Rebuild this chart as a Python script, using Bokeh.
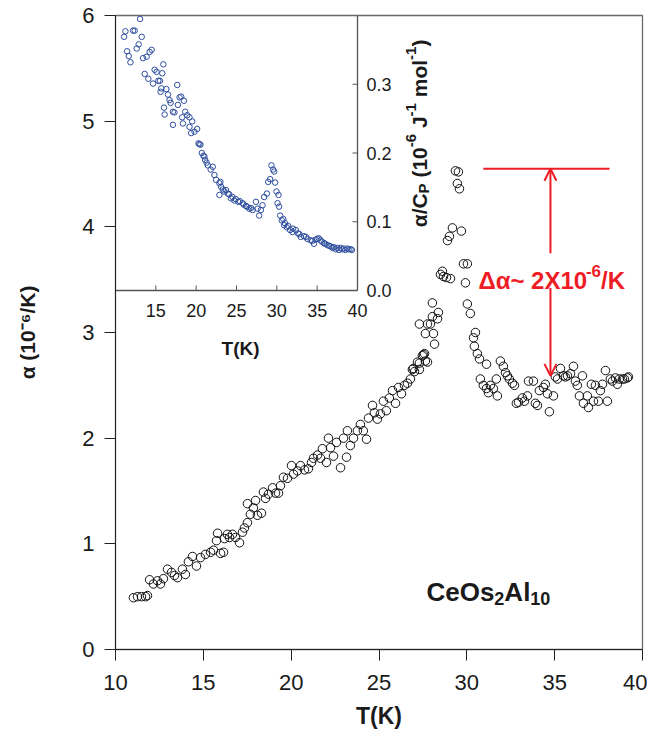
import math
from bokeh.plotting import figure
from bokeh.models import Range1d, Arrow, OpenHead
from bokeh.embed import file_html
from bokeh.resources import INLINE
from bokeh.core.properties import value

# ---------------- data ----------------
T_main = [11.02, 11.25, 11.48, 11.71, 11.82, 11.94, 12.16, 12.39, 12.56, 12.73,
          12.96, 13.19, 13.36, 13.53, 13.81, 13.98, 14.15, 14.38, 14.61, 14.84,
          15.12, 15.41, 15.58, 15.75, 15.81, 15.98, 16.15, 16.20, 16.37, 16.49,
          16.66, 16.83, 17.06, 17.23, 17.34, 17.51, 17.51, 17.68, 17.85, 17.97,
          18.08, 18.31, 18.42, 18.54, 18.71, 18.94, 19.11, 19.28, 19.39, 19.56,
          19.79, 20.02, 20.13, 20.36, 20.53, 20.76, 20.98, 21.16, 21.27, 21.50,
          21.67, 21.78, 22.01, 22.12, 22.24, 22.41, 22.58, 22.81, 22.98, 23.15,
          23.20, 23.37, 23.55, 23.77, 23.94, 24.11, 24.29, 24.40, 24.63, 24.74,
          24.91, 25.08, 25.25, 25.42, 25.59, 25.77, 25.94, 26.11, 26.28, 26.45,
          26.62, 26.79, 26.90, 27.02, 27.19, 27.30, 27.47, 27.59, 27.76, 26.96,
          27.30, 27.53, 27.64, 27.30, 27.64, 27.76, 27.93, 28.04, 28.16, 28.10,
          28.33, 28.38, 28.04, 28.50, 28.61, 28.67, 28.84, 29.07, 28.90, 29.01,
          29.18, 29.69, 29.35, 29.52, 29.46, 29.58, 29.81, 30.03, 29.92, 30.03,
          30.20, 30.49, 30.38, 30.43, 30.60, 30.72, 31.12, 30.77, 30.94, 31.12,
          31.23, 31.34, 31.51, 31.68, 31.74, 31.91, 32.08, 32.20, 32.31, 32.42,
          32.60, 32.71, 32.82, 32.94, 33.16, 33.28, 33.45, 33.51, 33.79, 33.90,
          34.02, 34.13, 34.36, 34.47, 34.59, 34.70, 34.93, 35.04, 35.16, 35.33,
          35.50, 35.61, 35.73, 35.90, 36.07, 36.18, 36.29, 36.41, 36.58, 36.64,
          36.86, 36.92, 37.09, 37.21, 37.32, 37.49, 37.60, 37.72, 37.89, 38.00,
          38.17, 38.29, 38.46, 38.57, 38.68, 38.86, 38.97, 39.14, 39.20]
alpha_main = [0.49, 0.50, 0.50, 0.50, 0.51, 0.66, 0.62, 0.65, 0.62, 0.67,
              0.76, 0.73, 0.70, 0.68, 0.76, 0.71, 0.83, 0.88, 0.79, 0.87,
              0.90, 0.92, 0.94, 1.03, 1.10, 0.91, 0.92, 1.05, 1.09, 1.06,
              1.09, 1.06, 1.01, 1.11, 1.15, 1.20, 1.38, 1.28, 1.34, 1.41,
              1.27, 1.29, 1.49, 1.43, 1.47, 1.53, 1.48, 1.48, 1.55, 1.63,
              1.62, 1.74, 1.66, 1.69, 1.74, 1.70, 1.71, 1.77, 1.81, 1.84,
              1.81, 1.90, 1.77, 2.00, 1.91, 1.83, 1.96, 1.72, 2.00, 1.82,
              2.07, 1.93, 2.00, 2.07, 2.13, 2.07, 1.99, 2.19, 2.31, 2.24,
              2.18, 2.23, 2.35, 2.26, 2.38, 2.45, 2.33, 2.48, 2.42, 2.50,
              2.52, 2.56, 2.65, 2.63, 2.72, 2.65, 2.78, 2.80, 2.72, 2.66,
              2.71, 2.79, 2.73, 3.08, 2.99, 3.08, 3.08, 3.15, 2.89, 2.99,
              3.13, 3.19, 3.28, 3.55, 3.58, 3.53, 3.52, 3.51, 3.87, 3.91,
              3.99, 3.96, 4.53, 4.52, 4.41, 4.36, 3.65, 3.65, 3.47, 3.27,
              3.18, 3.00, 2.95, 2.87, 2.80, 2.75, 2.70, 2.56, 2.50, 2.47,
              2.43, 2.50, 2.47, 2.56, 2.40, 2.73, 2.68, 2.62, 2.59, 2.56,
              2.52, 2.50, 2.33, 2.34, 2.38, 2.35, 2.40, 2.54, 2.54, 2.33,
              2.31, 2.45, 2.48, 2.51, 2.42, 2.25, 2.40, 2.58, 2.56, 2.66,
              2.59, 2.58, 2.59, 2.61, 2.68, 2.54, 2.50, 2.40, 2.59, 2.33,
              2.40, 2.29, 2.51, 2.35, 2.50, 2.35, 2.45, 2.51, 2.64, 2.35,
              2.56, 2.54, 2.57, 2.51, 2.56, 2.56, 2.56, 2.57, 2.58]

T_inset = [11.07, 11.23, 12.18, 12.38, 13.05, 13.25, 11.44, 11.64, 11.85, 12.63,
           12.88, 13.42, 13.86, 14.23, 14.48, 13.62, 14.07, 14.65, 14.85, 15.10,
           15.31, 15.51, 15.80, 15.93, 15.59, 15.68, 16.30, 16.51, 16.70, 16.83,
           16.01, 16.09, 17.12, 17.31, 17.12, 17.65, 17.94, 18.15, 18.48, 17.74,
           18.27, 18.64, 18.89, 19.17, 18.36, 19.17, 19.51, 19.79, 20.12, 19.38,
           20.28, 20.53, 20.70, 21.02, 20.41, 21.11, 21.44, 22.06, 22.26, 22.47,
           22.88, 23.09, 22.88, 23.49, 23.91, 24.32, 24.73, 25.22, 25.77, 26.17,
           26.58, 27.00, 27.41, 27.62, 27.81, 28.02, 28.23, 28.43, 28.77, 28.93,
           29.17, 29.33, 29.54, 29.67, 29.79, 29.96, 30.21, 30.09, 30.28, 30.41,
           30.62, 30.90, 31.23, 31.64, 31.94, 32.35, 32.63, 32.96, 33.37, 33.79,
           34.20, 34.60, 35.02, 35.43, 35.84, 36.26, 36.67, 37.07, 37.49, 37.90,
           38.31, 38.73, 39.14,
           23.3, 23.7, 24.1, 24.5, 24.9, 25.4, 25.9, 26.3, 26.8, 23.0,
           21.8, 21.3, 20.9, 32.0, 32.8, 33.6, 34.4, 34.8, 35.2, 35.6,
           36.0, 36.5, 36.9, 37.3, 37.7, 38.1, 38.5, 38.9, 39.3, 31.0,
           31.4, 30.8]
ratio_inset = [0.369, 0.377, 0.378, 0.378, 0.395, 0.369, 0.348, 0.341, 0.332, 0.352,
               0.358, 0.338, 0.340, 0.347, 0.350, 0.315, 0.308, 0.301, 0.321, 0.318,
               0.305, 0.305, 0.316, 0.329, 0.289, 0.294, 0.293, 0.285, 0.277, 0.273,
               0.266, 0.256, 0.260, 0.259, 0.241, 0.299, 0.281, 0.282, 0.276, 0.270,
               0.252, 0.260, 0.255, 0.252, 0.243, 0.238, 0.246, 0.231, 0.235, 0.229,
               0.214, 0.212, 0.200, 0.195, 0.213, 0.190, 0.182, 0.180, 0.168, 0.161,
               0.156, 0.151, 0.139, 0.144, 0.141, 0.134, 0.131, 0.129, 0.127, 0.123,
               0.119, 0.117, 0.129, 0.119, 0.109, 0.117, 0.124, 0.136, 0.141, 0.158,
               0.162, 0.182, 0.176, 0.173, 0.157, 0.144, 0.139, 0.127, 0.122, 0.109,
               0.102, 0.095, 0.092, 0.088, 0.085, 0.088, 0.083, 0.078, 0.079, 0.075,
               0.073, 0.068, 0.075, 0.073, 0.069, 0.066, 0.064, 0.063, 0.062, 0.062,
               0.061, 0.061, 0.060,
               0.147, 0.146, 0.140, 0.136, 0.133, 0.130, 0.125, 0.122, 0.120, 0.158,
               0.176, 0.186, 0.196, 0.090, 0.082, 0.078, 0.072, 0.074, 0.076, 0.071,
               0.068, 0.065, 0.062, 0.060, 0.059, 0.060, 0.059, 0.060, 0.059, 0.098,
               0.094, 0.104]

main_xticks = [10, 15, 20, 25, 30, 35, 40]
main_yticks = [0, 1, 2, 3, 4, 5, 6]
inset_xticks = [15, 20, 25, 30, 35, 40]
inset_yticks = [0.0, 0.1, 0.2, 0.3]
inset_ytick_labels = ["0.0", "0.1", "0.2", "0.3"]

# annotation (Δα) values in main data units
delta_upper = 4.55      # level of the peak line
delta_lower = 2.59      # level of the background
delta_x = 34.76         # T of the double arrow
delta_line_T = (30.94, 38.12)
delta_text_T = 30.66
delta_text_base = 3.49
delta_gap = (3.42, 3.75)
compound_T, compound_base = 27.70, 0.54
inset_label_start = 0.092

# ---------------- layout ----------------
W, H = 647, 734
BL, BT, BR, BB = 115, 15, 5, 85
frame_w = W - BL - BR
frame_h = H - BT - BB
inset_w_px = 242
inset_h_px = 275
INSET_X = (10, 40)
INSET_YMAX = 0.40

FONT = "Liberation Sans"
RED = "#ee1d25"
BLUE = "#2f4f9f"
INK = "#1a1a1a"

# approximate advance widths (em) of a bold sans face, for composing sub/superscripts
ADV = {'α': 0.61, '/': 0.278, 'C': 0.722, 'P': 0.667, ' ': 0.278, '(': 0.333,
       ')': 0.333, '1': 0.556, '0': 0.556, '-': 0.333, '6': 0.556, 'J': 0.556,
       'm': 0.889, 'o': 0.611, 'l': 0.278, 'e': 0.556, 'O': 0.778, 's': 0.556,
       'A': 0.722, '2': 0.556, 'Δ': 0.67, '~': 0.584, 'X': 0.667, 'K': 0.722}


def text_width(s, size):
    return sum(ADV.get(c, 0.6) for c in s) * size


p = figure(width=W, height=H, x_range=Range1d(10, 40), y_range=Range1d(0, 6),
           output_backend="svg", toolbar_location=None,
           min_border_left=BL, min_border_top=BT, min_border_right=BR,
           min_border_bottom=BB)
p.background_fill_color = "white"
p.border_fill_color = "white"
p.grid.visible = False
p.outline_line_color = "#6a6a6a"
p.outline_line_width = 1.3

for ax in (p.xaxis[0], p.yaxis[0]):
    ax.major_tick_out = 11
    ax.major_tick_in = 0
    ax.minor_tick_out = 0
    ax.minor_tick_in = 0
    ax.axis_line_color = "#222222"
    ax.major_tick_line_color = "#222222"
    ax.major_label_text_font = FONT
    ax.major_label_text_font_size = "22px"
    ax.major_label_text_color = INK
    ax.axis_label_text_font = FONT
    ax.axis_label_text_font_style = "bold"
    ax.axis_label_text_color = INK

p.xaxis.ticker = main_xticks
p.yaxis.ticker = main_yticks
p.xaxis.major_label_standoff = 14
p.yaxis.major_label_standoff = 10
p.xaxis.axis_label = "T(K)"
p.xaxis.axis_label_text_font_size = "23px"
p.xaxis.axis_label_standoff = 10
p.yaxis.axis_label = "α (10⁻⁶/K)"
p.yaxis.axis_label_text_font_size = "21px"
p.yaxis.axis_label_standoff = 40

# inset ranges mapped onto the full frame
ix_end = INSET_X[0] + (INSET_X[1] - INSET_X[0]) * frame_w / inset_w_px
iy_start = INSET_YMAX - INSET_YMAX * frame_h / inset_h_px
p.extra_x_ranges = {"ix": Range1d(INSET_X[0], ix_end)}
p.extra_y_ranges = {"iy": Range1d(iy_start, INSET_YMAX)}

# main data
p.scatter(T_main, alpha_main, marker="circle", size=8.5, fill_color=None,
          line_color="#111111", line_width=1)

# inset frame
p.segment(x0=[INSET_X[1], INSET_X[0]], y0=[0, 0], x1=[INSET_X[1], INSET_X[1]],
          y1=[INSET_YMAX, 0], x_range_name="ix", y_range_name="iy",
          line_color="#555555", line_width=1.3)
# inset ticks (inward, 5 px)
tdx = 5 * (INSET_X[1] - INSET_X[0]) / inset_w_px
tdy = 5 * INSET_YMAX / inset_h_px
p.segment(x0=inset_xticks[:-1], y0=[0] * (len(inset_xticks) - 1),
          x1=inset_xticks[:-1], y1=[tdy] * (len(inset_xticks) - 1),
          x_range_name="ix", y_range_name="iy", line_color="#555555", line_width=1)
p.segment(x0=[INSET_X[1]] * len(inset_yticks), y0=inset_yticks,
          x1=[INSET_X[1] - tdx] * len(inset_yticks), y1=inset_yticks,
          x_range_name="ix", y_range_name="iy", line_color="#555555", line_width=1)
p.text(x=inset_xticks, y=[0] * len(inset_xticks), text=[str(t) for t in inset_xticks],
       x_range_name="ix", y_range_name="iy", text_align="center", text_baseline="top",
       y_offset=13, text_font=value(FONT), text_font_size="18px", text_color=INK)
p.text(x=[INSET_X[1]] * len(inset_yticks), y=inset_yticks, text=inset_ytick_labels,
       x_range_name="ix", y_range_name="iy", text_align="left", text_baseline="middle",
       x_offset=9, text_font=value(FONT), text_font_size="18px", text_color=INK)
p.text(x=[25.5], y=[0], text=["T(K)"], x_range_name="ix", y_range_name="iy",
       text_align="center", text_baseline="middle", y_offset=58,
       text_font=value(FONT), text_font_size="19px", text_font_style="bold",
       text_color=INK)

# inset y label, rotated, composed piecewise; " " entries are pure advances
FS, SS = 21, 15
pieces = [("α/C", FS, 0), ("P", SS, 4), (" ", FS, 0), ("(10", FS, 0), ("-6", SS, -9),
          (" ", FS, 0), ("J", FS, 0), ("-1", SS, -9), (" ", FS, 0), ("mol", FS, 0),
          ("-1", SS, -9), (")", FS, 0)]
adv = 0.0
for txt, fs, shift in pieces:
    if txt.strip():
        p.text(x=[INSET_X[1]], y=[inset_label_start], text=[txt], x_range_name="ix",
               y_range_name="iy", angle=math.pi / 2, text_align="left",
               text_baseline="alphabetic", x_offset=62 + shift, y_offset=-adv,
               text_font=value(FONT), text_font_size=f"{fs}px", text_font_style="bold",
               text_color=INK)
    adv += text_width(txt, fs)

# inset data
p.scatter(T_inset, ratio_inset, marker="circle", size=5.5, fill_color=None,
          line_color=BLUE, line_width=1, x_range_name="ix", y_range_name="iy")

# Δα annotation
p.segment(x0=[delta_line_T[0]], y0=[delta_upper], x1=[delta_line_T[1]], y1=[delta_upper],
          line_color=RED, line_width=2)
p.add_layout(Arrow(end=OpenHead(size=12, line_color=RED, line_width=2),
                   x_start=delta_x, y_start=delta_gap[1],
                   x_end=delta_x, y_end=delta_upper,
                   line_color=RED, line_width=2))
p.add_layout(Arrow(end=OpenHead(size=12, line_color=RED, line_width=2),
                   x_start=delta_x, y_start=delta_gap[0],
                   x_end=delta_x, y_end=delta_lower,
                   line_color=RED, line_width=2))
RS, RSS = 24, 17
red_pieces = [("Δα~ 2X10", RS, 0), ("-6", RSS, -10), ("/K", RS, 0)]
adv = 0.0
for txt, fs, shift in red_pieces:
    p.text(x=[delta_text_T], y=[delta_text_base], text=[txt], x_offset=adv,
           y_offset=shift, text_align="left", text_baseline="alphabetic",
           text_font=value(FONT), text_font_size=f"{fs}px", text_font_style="bold",
           text_color=RED)
    adv += text_width(txt, fs)

# compound label CeOs2Al10
CS, CSS = 26, 18
c_pieces = [("CeOs", CS, 0), ("2", CSS, 6), ("Al", CS, 0), ("10", CSS, 6)]
adv = 0.0
for txt, fs, shift in c_pieces:
    p.text(x=[compound_T], y=[compound_base], text=[txt], x_offset=adv,
           y_offset=shift, text_align="left", text_baseline="alphabetic",
           text_font=value(FONT), text_font_size=f"{fs}px", text_font_style="bold",
           text_color=INK)
    adv += text_width(txt, fs)

open("out.html", "w").write(file_html(p, INLINE))
